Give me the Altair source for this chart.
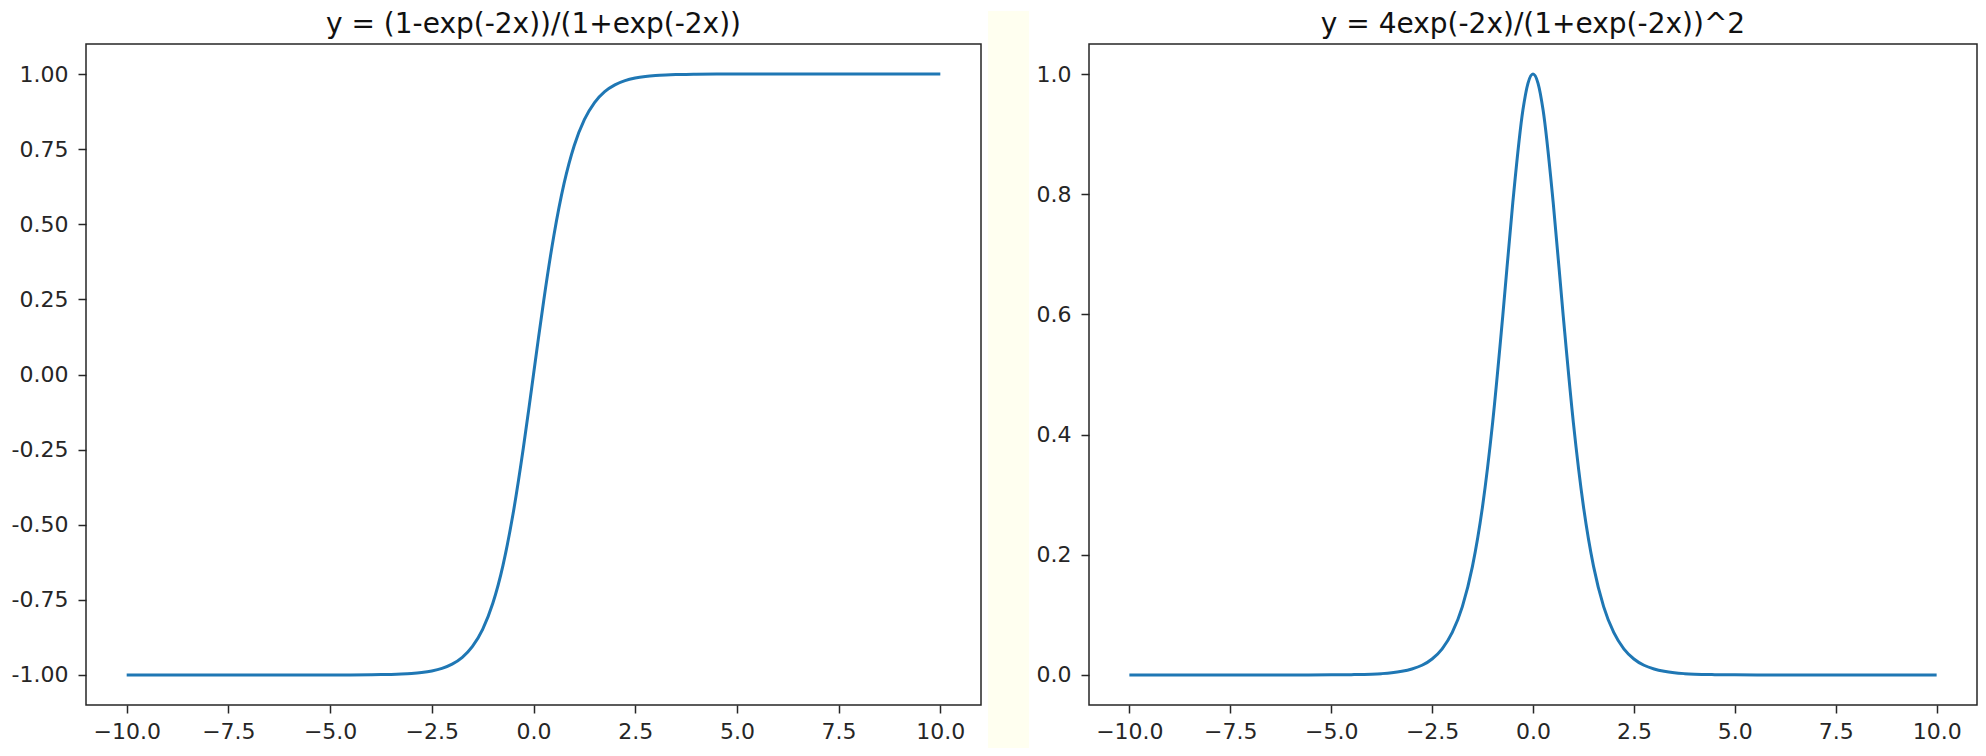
import altair as alt
import pandas as pd

# sample positions along x
xs = [-10, -8, -6, -5, -4.5, -4, -3.75, -3.5, -3.25, -3, -2.75, -2.5, -2.25, -2,
      -1.75, -1.5, -1.25, -1, -0.75, -0.5, -0.25, -0.125, 0, 0.125, 0.25, 0.5, 0.75,
      1, 1.25, 1.5, 1.75, 2, 2.25, 2.5, 2.75, 3, 3.25, 3.5, 3.75, 4, 4.5, 5, 6, 8, 10]

# left panel: y = (1-exp(-2x))/(1+exp(-2x))
left_y = [-1.0, -1.0, -1.0, -0.9999, -0.9998, -0.9993, -0.9989, -0.9982, -0.9970, -0.9951,
          -0.9919, -0.9866, -0.9780, -0.9640, -0.9414, -0.9051, -0.8483, -0.7616, -0.6351,
          -0.4621, -0.2449, -0.1244, 0.0, 0.1244, 0.2449, 0.4621, 0.6351, 0.7616, 0.8483,
          0.9051, 0.9414, 0.9640, 0.9780, 0.9866, 0.9919, 0.9951, 0.9970, 0.9982, 0.9989,
          0.9993, 0.9998, 0.9999, 1.0, 1.0, 1.0]

# right panel: y = 4exp(-2x)/(1+exp(-2x))^2
right_y = [0.0, 0.0, 0.0, 0.0002, 0.0005, 0.0013, 0.0022, 0.0036, 0.0060, 0.0099,
           0.0161, 0.0266, 0.0435, 0.0707, 0.1138, 0.1807, 0.2804, 0.4200, 0.5966,
           0.7864, 0.9400, 0.9845, 1.0, 0.9845, 0.9400, 0.7864, 0.5966, 0.4200, 0.2804,
           0.1807, 0.1138, 0.0707, 0.0435, 0.0266, 0.0161, 0.0099, 0.0060, 0.0036, 0.0022,
           0.0013, 0.0005, 0.0002, 0.0, 0.0, 0.0]

titles = ["y = (1-exp(-2x))/(1+exp(-2x))", "y = 4exp(-2x)/(1+exp(-2x))^2"]
x_ticks = [-10, -7.5, -5, -2.5, 0, 2.5, 5, 7.5, 10]
left_ticks = [-1.0, -0.75, -0.5, -0.25, 0.0, 0.25, 0.5, 0.75, 1.0]
right_ticks = [0.0, 0.2, 0.4, 0.6, 0.8, 1.0]

df = pd.DataFrame({"x": xs, "left": left_y, "right": right_y})

FONT = "DejaVu Sans"
INK = "#262626"
LINE = "#1f77b4"
BAND = "#fffff0"
H = 661


def axis_common(**kw):
    return dict(
        domain=False, grid=False, ticks=True, tickSize=8, tickWidth=1.5,
        tickColor=INK, labelColor=INK, labelFont=FONT, labelFontSize=22,
        title=None, zindex=1, **kw,
    )


def panel(field, title, ydomain, yticks, yfmt, width):
    x_enc = alt.X(
        "x:Q",
        scale=alt.Scale(domain=[-11, 11], nice=False, zero=False),
        axis=alt.Axis(values=x_ticks, format=".1f", labelPadding=8, **axis_common()),
    )
    y_enc = alt.Y(
        f"{field}:Q",
        scale=alt.Scale(domain=ydomain, nice=False, zero=False),
        axis=alt.Axis(
            values=yticks,
            labelExpr=f"replace(format(datum.value, '{yfmt}'), '\u2212', '-')",
            labelPadding=10,
            **axis_common(),
        ),
    )
    return (
        alt.Chart(df)
        .mark_line(color=LINE, strokeWidth=3, interpolate="monotone")
        .encode(x=x_enc, y=y_enc)
        .properties(
            width=width,
            height=H,
            title=alt.TitleParams(
                title, font=FONT, fontSize=28, fontWeight="normal", color="#111",
                anchor="middle", offset=5,
            ),
        )
    )


# cream strip separating the two figures
band = (
    alt.Chart(pd.DataFrame({"b": [0]}))
    .mark_rect(fill=BAND, clip=False)
    .encode(
        x=alt.value(7),
        x2=alt.value(48),
        y=alt.value(-33),
        y2=alt.value(H + 43),
    )
    .properties(width=108, height=H, view=alt.ViewBackground(stroke="transparent"))
)

left = panel("left", titles[0], [-1.1, 1.1], left_ticks, ".2f", 895)
right = panel("right", titles[1], [-0.05, 1.05], right_ticks, ".1f", 888)

chart = (
    alt.hconcat(left, band, right, spacing=0, bounds="flush")
    .properties(padding={"left": 2, "top": 2, "right": 0, "bottom": 0}, background="white")
    .configure_view(stroke=INK, strokeWidth=1.5)
)

chart.save("out.html", embed_options={"renderer": "svg", "actions": False})
